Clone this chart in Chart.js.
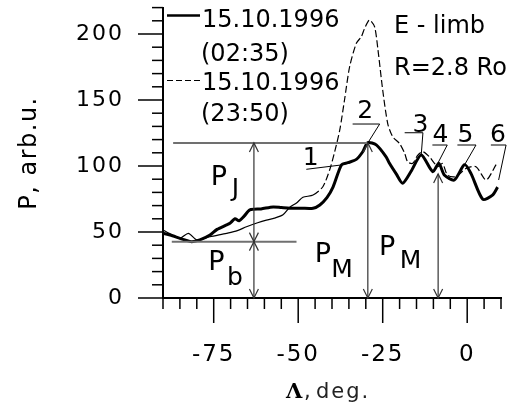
<!DOCTYPE html>
<html>
<head>
<meta charset="utf-8">
<script src="https://cdn.jsdelivr.net/npm/chart.js@4.4.0/dist/chart.umd.min.js"></script>
<style>
html, body { margin: 0; padding: 0; background: #fff; }
#wrap { width: 513px; height: 408px; }
</style>
</head>
<body>
<div id="wrap"><canvas id="chartCanvas" width="513" height="408"></canvas></div>
<script>
"use strict";

// 15.10.1996 (02:35) - thick solid curve
const lambdaEarly = [-90, -87.9, -85, -83.5, -81.5, -79.1, -76.1, -74, -71.5, -70.2, -68.7, -67.5, -66, -64.3, -61, -57.4,
    -55, -52.5, -49, -45.6, -43.6, -41.5, -39.7, -37.2, -35.3, -32.8, -30.9, -29.4, -26.9, -24, -23, -21, -19.1, -16.6,
    -13.6, -10.2, -8.4, -6.7, -3.8, -0.8, 1.1, 4.6, 7.5, 9];
const powerEarly = [49, 47.7, 45.2, 44, 42.7, 44, 47.7, 52, 55, 56.6, 60, 58.5, 62, 66.7, 67.5, 69,
    68.5, 68, 68, 68, 70.5, 76, 84, 100.8, 102.5, 105, 110.8, 117.7, 116, 107, 102, 94, 87, 96,
    108.3, 95.7, 102, 93, 89.4, 101, 94.4, 74.8, 78, 84];

// 15.10.1996 (23:50) - thin dashed curve
const lambdaLate = [-90, -87.5, -85, -82.5, -80.1, -78, -76.1, -71.2, -68, -65.3, -62, -59.4, -57, -54.5, -52.5, -50.5,
    -48.6, -45.6, -42.7, -40.7, -39.2, -37.7, -36.3, -34.8, -32.8, -31.3, -30.4, -28.9, -27.4, -26.4, -25, -23.5, -22,
    -20, -18.5, -17.6, -16.1, -14.6, -13.1, -11.2, -8.7, -7.3, -5.8, -3.3, -0.3, 2.6, 5.6, 8.5, 9];
const powerLate = [51.5, 48, 45.2, 49, 44, 45, 46.4, 49, 51, 54, 57, 59, 60.5, 63, 68.7, 72,
    76.3, 78, 84.3, 97, 110.8, 127.3, 150, 175, 193, 198, 204, 210.6, 205.5, 188, 157.6, 132, 122,
    117, 109.6, 103, 102, 108.3, 110.8, 107, 99.5, 102, 93, 92, 98.2, 99.5, 89.4, 100.8, 103];

const seriesDates = ['15.10.1996', '15.10.1996'];
const seriesTimes = ['(02:35)', '(23:50)'];
const xTickValues = [-75, -50, -25, 0];
const yTickValues = [0, 50, 100, 150, 200];
const xMinorStep = 5;
const yMinorStep = 10;

// levels marked on the plot
const levelJet = 117.5;     // P_J top
const levelBase = 42.7;     // P_b top
const peakLambdas = [-29.4, -8.6];
const peakTops = [117.5, 94];

const FONT = '"DejaVu Sans", Verdana, sans-serif';

function toPoints(xs, ys) {
    return xs.map((x, i) => ({ x: x, y: ys[i] }));
}

function arrowHead(ctx, x, y, dir) {
    // dir = -1 points up, 1 points down
    ctx.beginPath();
    ctx.moveTo(x - 4.5, y - dir * 9);
    ctx.lineTo(x, y);
    ctx.lineTo(x + 4.5, y - dir * 9);
    ctx.stroke();
}

function line(ctx, x1, y1, x2, y2) {
    ctx.beginPath();
    ctx.moveTo(x1, y1);
    ctx.lineTo(x2, y2);
    ctx.stroke();
}

const drawExtras = {
    id: 'drawExtras',
    beforeDraw(chart) {
        chart.ctx.letterSpacing = '2px';
    },
    afterDraw(chart) {
        const ctx = chart.ctx;
        const xs = chart.scales.x, ys = chart.scales.y;
        const X = v => xs.getPixelForValue(v);
        const Y = v => ys.getPixelForValue(v);
        const area = chart.chartArea;

        ctx.save();
        ctx.letterSpacing = '0px';

        // tick marks, long for labelled values
        ctx.strokeStyle = '#000';
        ctx.lineWidth = 1.5;
        for (let v = xs.min; v <= xs.max + 0.01; v += xMinorStep) {
            const len = xTickValues.includes(v) ? 25 : 11;
            line(ctx, X(v), area.bottom, X(v), area.bottom + len);
        }
        for (let v = ys.min; v <= ys.max + 0.01; v += yMinorStep) {
            const len = yTickValues.includes(v) ? 25 : 11;
            line(ctx, area.left - len, Y(v), area.left, Y(v));
        }

        // horizontal levels
        ctx.strokeStyle = '#707070';
        ctx.lineWidth = 2;
        line(ctx, X(-87), Y(levelJet), X(peakLambdas[0]), Y(levelJet));
        line(ctx, X(-87.4), Y(levelBase), X(-50.5), Y(levelBase));

        // vertical arrows
        ctx.strokeStyle = '#333';
        ctx.lineWidth = 1.2;
        const xa = X(-63.1);
        line(ctx, xa, Y(levelJet), xa, Y(0));
        arrowHead(ctx, xa, Y(levelJet), -1);
        arrowHead(ctx, xa, Y(levelBase), 1);
        arrowHead(ctx, xa, Y(levelBase), -1);
        arrowHead(ctx, xa, Y(0), 1);
        peakLambdas.forEach((lam, i) => {
            line(ctx, X(lam), Y(peakTops[i]), X(lam), Y(0));
            arrowHead(ctx, X(lam), Y(peakTops[i]), -1);
            arrowHead(ctx, X(lam), Y(0), 1);
        });

        // P labels with subscripts
        ctx.fillStyle = '#000';
        ctx.textAlign = 'center';
        ctx.textBaseline = 'alphabetic';
        const pLabels = [
            { sub: 'J', p: [-73.5, 85.6], s: [-68.6, 77.5] },
            { sub: 'b', p: [-74.2, 21.2], s: [-68.7, 9.8] },
            { sub: 'M', p: [-42.7, 27.5], s: [-37, 16.1] },
            { sub: 'M', p: [-23.7, 32.6], s: [-16.8, 22.5] }
        ];
        pLabels.forEach(l => {
            ctx.font = '27px ' + FONT;
            ctx.fillText('P', X(l.p[0]), Y(l.p[1]));
            ctx.font = '25px ' + FONT;
            ctx.fillText(l.sub, X(l.s[0]), Y(l.s[1]));
        });

        // numbered features with leader lines
        const marks = [
            { t: '1', at: [-46.3, 100.8], path: [[-47.6, 97.5], [-37.2, 100.8]] },
            { t: '2', at: [-30.2, 136.1], path: [[-33.9, 131.8], [-25.9, 131.8], [-29.4, 117.5]] },
            { t: '3', at: [-13.8, 126], path: [[-18.5, 125.2], [-13.1, 125.2], [-13.6, 108.3]] },
            { t: '4', at: [-7.9, 118.4], path: [[-10.3, 115.9], [-5.9, 115.9], [-8.7, 102]] },
            { t: '5', at: [-0.5, 118.4], path: [[-2.9, 115.9], [2.6, 115.9], [-0.8, 100.8]] },
            { t: '6', at: [9.1, 118.4], path: [[7.0, 115.9], [11.5, 115.9], [9.3, 89.4]] }
        ];
        ctx.strokeStyle = '#000';
        ctx.lineWidth = 1;
        ctx.font = '25px ' + FONT;
        marks.forEach(m => {
            ctx.fillText(m.t, X(m.at[0]), Y(m.at[1]));
            ctx.beginPath();
            m.path.forEach((p, i) => {
                if (i === 0) ctx.moveTo(X(p[0]), Y(p[1]));
                else ctx.lineTo(X(p[0]), Y(p[1]));
            });
            ctx.stroke();
        });

        // legend
        ctx.textAlign = 'left';
        ctx.font = '24px ' + FONT;
        ctx.strokeStyle = '#000';
        ctx.lineWidth = 2.5;
        line(ctx, 167, 15.5, 200, 15.5);
        ctx.lineWidth = 1.2;
        ctx.setLineDash([6, 3]);
        line(ctx, 167, 80.5, 203, 80.5);
        ctx.setLineDash([]);
        ctx.fillText(seriesDates[0], 202, 26.5);
        ctx.fillText(seriesTimes[0], 201, 60.5);
        ctx.fillText(seriesDates[1], 202, 90);
        ctx.fillText(seriesTimes[1], 201, 120.5);

        // note
        ctx.fillText('E - limb', 394, 33);
        ctx.fillText('R=2.8 Ro', 394, 75);

        // axis titles
        ctx.save();
        ctx.translate(36, 153);
        ctx.rotate(-Math.PI / 2);
        ctx.textAlign = 'center';
        ctx.letterSpacing = '1.5px';
        ctx.font = '24px ' + FONT;
        ctx.fillText('P, arb.u.', 0, 0);
        ctx.restore();

        ctx.textAlign = 'left';
        ctx.font = 'bold 21px "DejaVu Serif", "Liberation Serif", serif';
        ctx.fillText('\u039B', 286, 398);
        ctx.font = '21px ' + FONT;
        ctx.fillStyle = '#222';
        ctx.fillText(',', 304, 398);
        ctx.letterSpacing = '2px';
        ctx.fillText('deg.', 316, 398);

        ctx.restore();
    }
};

const ctx = document.getElementById('chartCanvas').getContext('2d');
const plot = new Chart(ctx, {
    type: 'scatter',
    data: {
        datasets: [
            {
                label: seriesDates[0] + ' ' + seriesTimes[0],
                data: toPoints(lambdaEarly, powerEarly),
                showLine: true,
                borderColor: '#000',
                borderWidth: 3,
                pointRadius: 0,
                tension: 0.25
            },
            {
                label: seriesDates[1] + ' ' + seriesTimes[1],
                data: toPoints(lambdaLate, powerLate),
                showLine: true,
                borderColor: '#000',
                borderWidth: 1.2,
                pointRadius: 0,
                tension: 0.25,
                segment: {
                    borderDash: c => lambdaLate[c.p0DataIndex] > -46 ? [7, 3] : undefined
                }
            }
        ]
    },
    options: {
        responsive: false,
        devicePixelRatio: 1,
        animation: false,
        events: [],
        layout: { padding: { top: 7.6, right: 12, left: 0, bottom: 0 } },
        plugins: {
            legend: { display: false },
            tooltip: { enabled: false }
        },
        scales: {
            x: {
                type: 'linear',
                min: -90,
                max: 10,
                afterBuildTicks: s => { s.ticks = xTickValues.map(v => ({ value: v })); },
                afterFit: s => { s.height = 110; s.paddingLeft = 0; s.paddingRight = 0; },
                grid: { display: true, drawOnChartArea: false, drawTicks: true, tickLength: 25, color: 'rgba(0,0,0,0)' },
                border: { display: true, color: '#000', width: 2 },
                ticks: {
                    color: '#000',
                    padding: 18,
                    maxRotation: 0,
                    font: { family: FONT, size: 23 }
                }
            },
            y: {
                type: 'linear',
                min: 0,
                max: 220,
                afterBuildTicks: s => { s.ticks = yTickValues.map(v => ({ value: v })); },
                afterFit: s => { s.width = 163; s.paddingTop = 0; s.paddingBottom = 0; },
                grid: { display: true, drawOnChartArea: false, drawTicks: true, tickLength: 25, color: 'rgba(0,0,0,0)' },
                border: { display: true, color: '#000', width: 2 },
                ticks: {
                    color: '#000',
                    padding: 14,
                    font: { family: FONT, size: 22 }
                }
            }
        }
    },
    plugins: [drawExtras]
});
</script>
</body>
</html>
